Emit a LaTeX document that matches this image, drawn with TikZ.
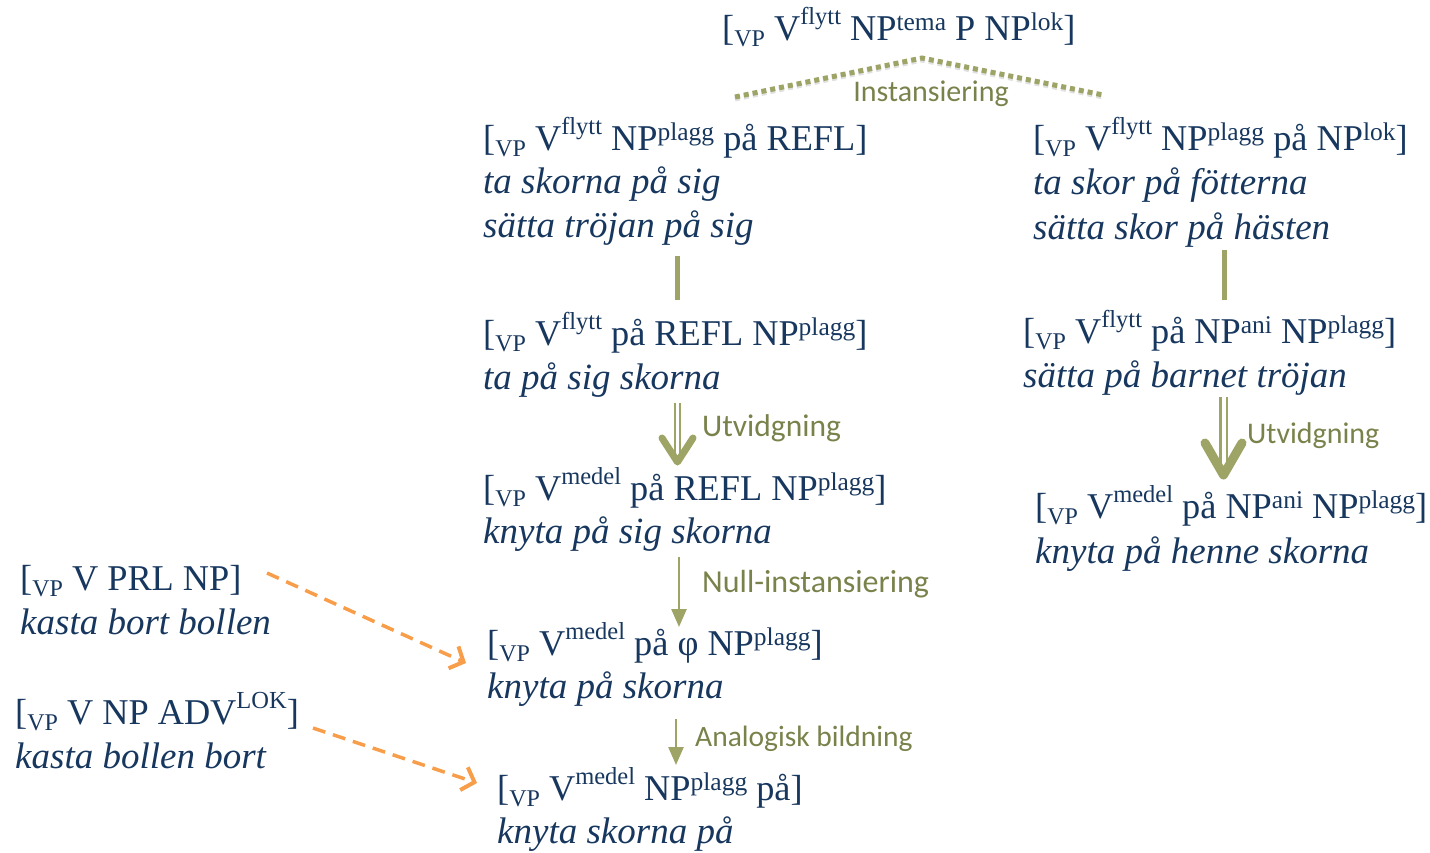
\documentclass[tikz,border=0pt]{standalone}
\usepackage{fontspec}
\setmainfont{Liberation Serif}[ItalicFont={Liberation Serif Italic}, BoldFont={Liberation Serif Bold}]
\newfontfamily\labfont{Carlito}
\usetikzlibrary{arrows.meta}
\definecolor{tblue}{RGB}{23,55,94}
\definecolor{olab}{RGB}{122,130,76}
\definecolor{oline}{RGB}{158,163,102}
\definecolor{oorange}{RGB}{248,158,75}
\newcommand\VP{[\raisebox{-0.17em}{\fontsize{24}{24}\selectfont VP}}
\newcommand\hs[1]{\raisebox{0.42em}{\fontsize{24.5}{24}\selectfont #1}}
\newcommand\ls[1]{\raisebox{0.27em}{\fontsize{25.5}{25}\selectfont #1}}
\tikzset{
  tx/.style={anchor=base west, inner sep=0pt, text=tblue, font=\fontsize{36.3}{44}\selectfont},
  ex/.style={anchor=base west, inner sep=0pt, text=tblue, font=\fontsize{37}{44}\selectfont\itshape},
  lab/.style={inner sep=0pt, text=olab, font=\labfont\fontsize{29}{30}\selectfont},
  roof/.style={draw=oline, line width=5pt, dash pattern=on 5pt off 4pt},
  bar/.style={draw=oline, line width=5pt},
  dshaft/.style={draw=oline, double=white, double distance=3pt, line width=2pt},
  chev/.style={draw=oline, line cap=round, line join=round},
  sarrow/.style={draw=oline, line width=2.5pt, -{Triangle[length=18pt, width=15pt]}},
  darrow/.style={draw=oorange, line width=3.5pt, dash pattern=on 13pt off 8pt, -{Straight Barb[length=11pt, width=24pt, line width=4pt]}}
}
\begin{document}
\begin{tikzpicture}[x=1pt, y=-1pt]
\useasboundingbox (0,0) rectangle (1430,852);
% top
\node[tx] (top) at (722,40) {\VP\ V\hs{flytt} NP\ls{tema} P NP\ls{lok}]};
% left column
\node[tx] (l1a) at (483,150) {\VP\ V\hs{flytt} NP\ls{plagg} på REFL]};
\node[ex] (l1b) at (483,193) {ta skorna på sig};
\node[ex] (l1c) at (483,237) {sätta tröjan på sig};
\node[tx] (l2a) at (483,345) {\VP\ V\hs{flytt} på REFL NP\ls{plagg}]};
\node[ex] (l2b) at (483,389) {ta på sig skorna};
\node[tx] (l3a) at (483,500) {\VP\ V\hs{medel} på REFL NP\ls{plagg}]};
\node[ex] (l3b) at (483,543) {knyta på sig skorna};
\node[tx] (l4a) at (487,655) {\VP\ V\hs{medel} på φ NP\ls{plagg}]};
\node[ex] (l4b) at (487,698) {knyta på skorna};
\node[tx] (l5a) at (497,800) {\VP\ V\hs{medel} NP\ls{plagg} på]};
\node[ex] (l5b) at (497,843) {knyta skorna på};
% right column
\node[tx] (r1a) at (1033,150) {\VP\ V\hs{flytt} NP\ls{plagg} på NP\ls{lok}]};
\node[ex] (r1b) at (1033,194) {ta skor på fötterna};
\node[ex] (r1c) at (1033,239) {sätta skor på hästen};
\node[tx] (r2a) at (1023,343) {\VP\ V\hs{flytt} på NP\ls{ani} NP\ls{plagg}]};
\node[ex] (r2b) at (1023,387) {sätta på barnet tröjan};
\node[tx] (r3a) at (1035,518) {\VP\ V\hs{medel} på NP\ls{ani} NP\ls{plagg}]};
\node[ex] (r3b) at (1035,563) {knyta på henne skorna};
% far left
\node[tx] (aa) at (20,590) {\VP\ V PRL NP]};
\node[ex] (ab) at (20,634) {kasta bort bollen};
\node[tx] (ba) at (15,724) {\VP\ V NP ADV\hs{LOK}]};
\node[ex] (bb) at (15,768) {kasta bollen bort};
% labels
\node[lab, font=\labfont\fontsize{30}{30}\selectfont] (inst) at (931,94) {Instansiering};
\node[lab, anchor=west, font=\labfont\fontsize{31.5}{30}\selectfont] (utv1) at (702,428) {Utvidgning};
\node[lab, anchor=west, font=\labfont\fontsize{30}{30}\selectfont] (utv2) at (1247,436) {Utvidgning};
\node[lab, anchor=west, font=\labfont\fontsize{32}{30}\selectfont] (null) at (702,584) {Null-instansiering};
\node[lab, anchor=west, font=\labfont\fontsize{29.5}{30}\selectfont] (analog) at (695,739) {Analogisk bildning};
% roof
\coordinate (rfL) at (735,97);
\coordinate (rfP) at (922,58);
\coordinate (rfR) at (1103,95);
\draw[black!12, line width=5pt, dash pattern=on 5pt off 4pt] ([yshift=-2pt]rfL) -- ([yshift=-2pt]rfP) -- ([yshift=-2pt]rfR);
\draw[roof] (rfL) -- (rfP) -- (rfR);
% plain bars
\coordinate (b1s) at (677,256); \coordinate (b1e) at (677,300);
\coordinate (b2s) at (1224,250); \coordinate (b2e) at (1224,300);
\draw[bar] (b1s) -- (b1e);
\draw[bar] (b2s) -- (b2e);
% double arrows
\coordinate (d1s) at (677.5,403); \coordinate (d1e) at (677.5,458);
\draw[dshaft] (d1s) -- (d1e);
\draw[chev, line width=7pt] (662,438) -- (677.5,462) -- (693,438);
\coordinate (d2s) at (1223.5,397); \coordinate (d2e) at (1223.5,470);
\draw[dshaft, double distance=4pt, line width=2.5pt] (d2s) -- (d2e);
\draw[chev, line width=9pt] (1205,443) -- (1223.5,475) -- (1242,443);
% single arrows
\coordinate (s1s) at (679,557); \coordinate (s1e) at (679,627);
\draw[sarrow] (s1s) -- (s1e);
\coordinate (s2s) at (676,719); \coordinate (s2e) at (676,765);
\draw[sarrow] (s2s) -- (s2e);
% dashed orange arrows
\coordinate (o1s) at (267,573); \coordinate (o1e) at (466,663);
\draw[darrow] (o1s) -- (o1e);
\coordinate (o2s) at (313,728); \coordinate (o2e) at (477,783);
\draw[darrow] (o2s) -- (o2e);
\end{tikzpicture}
\end{document}
